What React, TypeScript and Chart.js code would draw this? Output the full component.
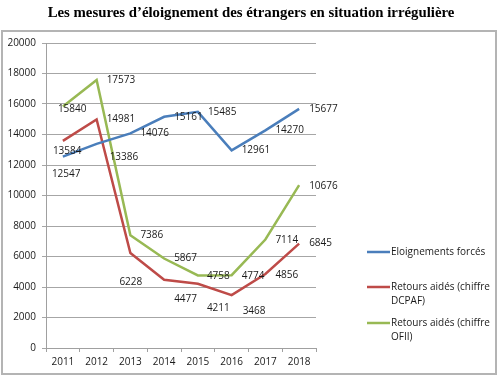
import React, { useEffect, useRef } from "react";
import { Chart, registerables } from "chart.js";

Chart.register(...registerables);

const TITLE = "Les mesures d’éloignement des étrangers en situation irrégulière";
const years = ["2011", "2012", "2013", "2014", "2015", "2016", "2017", "2018"];
const forces = [12547, 13386, 14076, 15161, 15485, 12961, 14270, 15677];
const dcpaf = [13584, 14981, 6228, 4477, 4211, 3468, 4856, 6845];
const ofii = [15840, 17573, 7386, 5867, 4758, 4774, 7114, 10676];
const seriesNames = ["Eloignements forcés", "Retours aidés (chiffre DCPAF)", "Retours aidés (chiffre OFII)"];
const legendLines = [["Eloignements forcés"], ["Retours aidés (chiffre", "DCPAF)"], ["Retours aidés (chiffre", "OFII)"]];

const FONT = "'Open Sans', sans-serif";
const TXT = "#1a1a1a";

// label nudges relative to the default "right of point" position
const nudges: Record<number, [number, number]>[] = [
  { 0: [-21, 17], 1: [3, 13] },
  { 0: [-20, 10], 2: [-21, 29], 3: [0, 19], 4: [-1, 24], 5: [1, 16], 6: [0, 1] },
  { 0: [-15, 3], 4: [-1, 1], 5: [0, 1], 6: [0, 1], 7: [0, 1] },
];

const decorPlugin = {
  id: "decor",
  beforeDraw(chart: any) {
    const ctx = chart.ctx;
    ctx.save();
    ctx.strokeStyle = "#b4b4b4";
    ctx.lineWidth = 2;
    ctx.strokeRect(2, 31, 494, 343);
    ctx.fillStyle = "#000";
    ctx.font = "bold 14.8px 'Liberation Serif', serif";
    ctx.textAlign = "center";
    ctx.textBaseline = "middle";
    ctx.fillText(TITLE, 251, 13);
    ctx.restore();
  },
  afterDatasetsDraw(chart: any) {
    const ctx = chart.ctx;
    ctx.save();
    ctx.font = "10px " + FONT;
    ctx.fillStyle = TXT;
    ctx.textAlign = "left";
    ctx.textBaseline = "middle";
    chart.data.datasets.forEach((ds: any, di: number) => {
      const meta = chart.getDatasetMeta(di);
      meta.data.forEach((pt: any, i: number) => {
        const n = nudges[di][i] || [0, 0];
        ctx.fillText(String(ds.data[i]), pt.x + 10 + n[0], pt.y + n[1]);
      });
    });
    // legend
    const ys = [252, 287, 323];
    chart.data.datasets.forEach((ds: any, di: number) => {
      const y = ys[di];
      ctx.strokeStyle = ds.borderColor;
      ctx.lineWidth = 2.5;
      ctx.beginPath();
      ctx.moveTo(367, y);
      ctx.lineTo(390, y);
      ctx.stroke();
      legendLines[di].forEach((t, li) => {
        ctx.fillText(t, 391, y + li * 14);
      });
    });
    ctx.restore();
  },
};

export default function App() {
  const ref = useRef<HTMLCanvasElement>(null);
  useEffect(() => {
    document.body.style.margin = "0";
    const colors = ["#4a7ebb", "#be4b48", "#98b954"];
    const chart = new Chart(ref.current!, {
      type: "line",
      data: {
        labels: years,
        datasets: [forces, dcpaf, ofii].map((d, i) => ({
          label: seriesNames[i],
          data: d,
          borderColor: colors[i],
          backgroundColor: colors[i],
          borderWidth: 2.5,
          pointRadius: 0,
          tension: 0,
          fill: false,
        })),
      },
      options: {
        animation: false,
        responsive: false,
        layout: { padding: { top: 43, right: 184, left: 0, bottom: 0 } },
        plugins: { legend: { display: false }, tooltip: { enabled: false }, title: { display: false } },
        scales: {
          x: {
            offset: true,
            grid: { offset: true, drawOnChartArea: false, drawTicks: true, tickLength: 4, color: "#a0a0a0" },
            border: { color: "#a0a0a0" },
            ticks: { color: TXT, font: { family: FONT, size: 10 }, padding: 4, maxRotation: 0 },
            afterFit(s: any) { s.height = 30; },
          },
          y: {
            min: 0,
            max: 20000,
            ticks: {
              stepSize: 2000,
              color: TXT,
              font: { family: FONT, size: 10 },
              padding: 6,
              callback: (v: any) => String(v),
            },
            grid: { color: "#a6a6a6", tickLength: 4 },
            border: { color: "#a0a0a0" },
            afterFit(s: any) { s.width = 46; },
          },
        },
      },
      plugins: [decorPlugin],
    });
    return () => chart.destroy();
  }, []);
  return <canvas ref={ref} width={500} height={378} style={{ display: "block" }} />;
}
